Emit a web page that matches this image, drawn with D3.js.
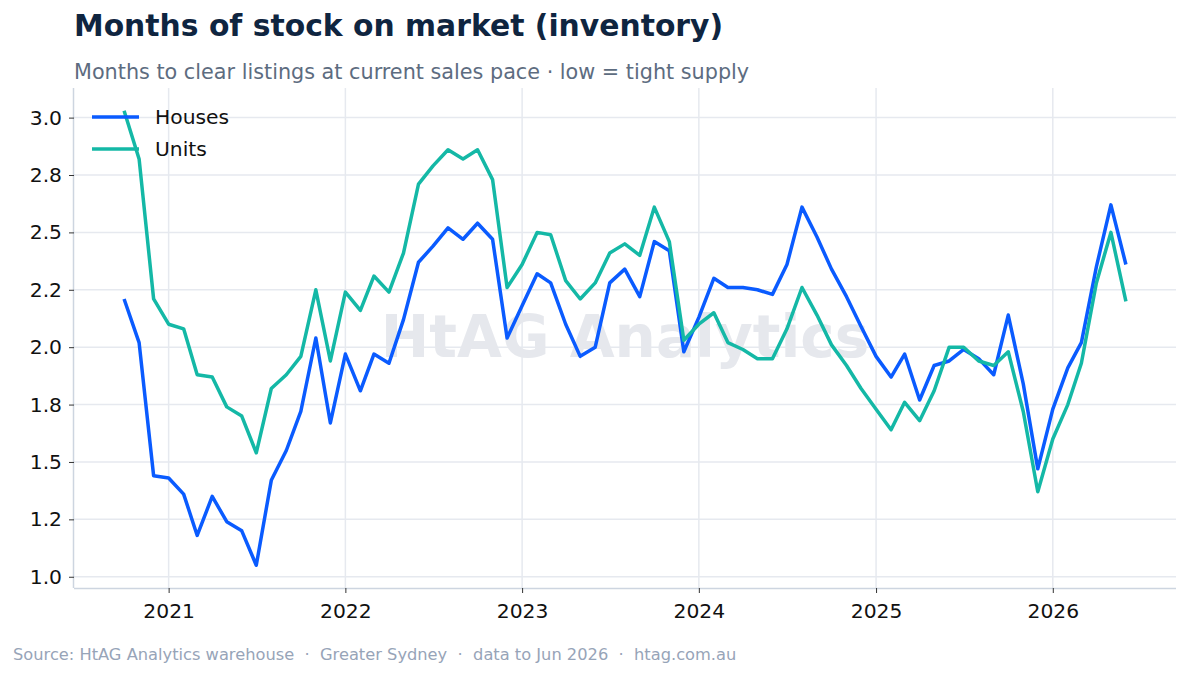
<!DOCTYPE html>
<html>
<head>
<meta charset="utf-8">
<script src="https://cdn.jsdelivr.net/npm/d3@7"></script>
<style>
  body { margin: 0; background: #fff; }
  svg { font-family: "DejaVu Sans", sans-serif; display: block; }
</style>
</head>
<body>
<div id="chart"></div>
<script>
// Months of stock on market - Greater Sydney, houses vs units
const width = 1189;
const height = 676;
const margin = { top: 88, right: 13, bottom: 88, left: 74 };

const startMonth = "2020-10";
const houses = [
  2.21, 2.02, 1.44,
  1.43, 1.36, 1.18, 1.35, 1.24, 1.20, 1.05, 1.42, 1.55, 1.72, 2.04, 1.67,
  1.97, 1.81, 1.97, 1.93, 2.12, 2.37, 2.44, 2.52, 2.47, 2.54, 2.47, 2.04,
  2.18, 2.32, 2.28, 2.10, 1.96, 2.00, 2.28, 2.34, 2.22, 2.46, 2.42, 1.98,
  2.13, 2.30, 2.26, 2.26, 2.25, 2.23, 2.36, 2.61, 2.48, 2.34, 2.22, 2.09,
  1.96, 1.87, 1.97, 1.77, 1.92, 1.94, 1.99, 1.95, 1.88, 2.14, 1.84, 1.47,
  1.73, 1.91, 2.02, 2.35, 2.62, 2.36
];
const units = [
  3.03, 2.82, 2.21,
  2.10, 2.08, 1.88, 1.87, 1.74, 1.70, 1.54, 1.82, 1.88, 1.96, 2.25, 1.94,
  2.24, 2.16, 2.31, 2.24, 2.41, 2.71, 2.79, 2.86, 2.82, 2.86, 2.73, 2.26,
  2.36, 2.50, 2.49, 2.29, 2.21, 2.28, 2.41, 2.45, 2.40, 2.61, 2.46, 2.03,
  2.10, 2.15, 2.02, 1.99, 1.95, 1.95, 2.08, 2.26, 2.14, 2.01, 1.92, 1.82,
  1.73, 1.64, 1.76, 1.68, 1.81, 2.00, 2.00, 1.94, 1.92, 1.98, 1.72, 1.37,
  1.60, 1.75, 1.93, 2.28, 2.50, 2.20
];
const yTicks = [1.0, 1.25, 1.5, 1.75, 2.0, 2.25, 2.5, 2.75, 3.0];
const yTickLabels = ["1.0", "1.2", "1.5", "1.8", "2.0", "2.2", "2.5", "2.8", "3.0"];
const xTickYears = [2021, 2022, 2023, 2024, 2025, 2026];

const seriesNames = ["Houses", "Units"];
const colors = { Houses: "#0a5bff", Units: "#14b8a6" };

const parseMonth = d3.timeParse("%Y-%m");
const months = d3.timeMonth.range(parseMonth(startMonth), d3.timeMonth.offset(parseMonth(startMonth), houses.length));
const series = [
  { name: "Houses", values: houses.map((v, i) => ({ date: months[i], value: v })) },
  { name: "Units", values: units.map((v, i) => ({ date: months[i], value: v })) }
];

const svg = d3.select("#chart")
  .append("svg")
  .attr("width", width)
  .attr("height", height);

// matplotlib-ish 5% margins on both axes
const xExt = d3.extent(months);
const xPad = (xExt[1] - xExt[0]) * 0.05;
const x = d3.scaleTime()
  .domain([new Date(+xExt[0] - xPad), new Date(+xExt[1] + xPad)])
  .range([margin.left, width - margin.right]);

const allVals = houses.concat(units);
const yExt = d3.extent(allVals);
const yPad = (yExt[1] - yExt[0]) * 0.05;
const y = d3.scaleLinear()
  .domain([yExt[0] - yPad, yExt[1] + yPad])
  .range([height - margin.bottom, margin.top]);

const plotLeft = margin.left, plotRight = width - margin.right;
const plotTop = margin.top, plotBottom = height - margin.bottom;

// gridlines
svg.append("g")
  .selectAll("line")
  .data(yTicks)
  .join("line")
  .attr("x1", plotLeft).attr("x2", plotRight)
  .attr("y1", d => y(d)).attr("y2", d => y(d))
  .attr("stroke", "#e6e9ef").attr("stroke-width", 1.5);

svg.append("g")
  .selectAll("line")
  .data(xTickYears)
  .join("line")
  .attr("x1", d => x(new Date(d, 0, 1))).attr("x2", d => x(new Date(d, 0, 1)))
  .attr("y1", plotTop).attr("y2", plotBottom)
  .attr("stroke", "#e6e9ef").attr("stroke-width", 1.5);

// watermark
svg.append("text")
  .attr("x", (plotLeft + plotRight) / 2)
  .attr("y", 357)
  .attr("text-anchor", "middle")
  .attr("font-size", 58)
  .attr("font-weight", "bold")
  .attr("fill", "#e6e8ed")
  .text("HtAG Analytics");

// axes
const xAxis = d3.axisBottom(x)
  .tickValues(xTickYears.map(yr => new Date(yr, 0, 1)))
  .tickFormat(d3.timeFormat("%Y"))
  .tickSize(5)
  .tickPadding(6);

const yAxis = d3.axisLeft(y)
  .tickValues(yTicks)
  .tickFormat((d, i) => yTickLabels[i])
  .tickSize(5)
  .tickPadding(7);

const gx = svg.append("g")
  .attr("transform", `translate(0,${plotBottom})`)
  .call(xAxis);
const gy = svg.append("g")
  .attr("transform", `translate(${plotLeft},0)`)
  .call(yAxis);

[gx, gy].forEach(g => {
  g.select(".domain").attr("stroke", "#cdd5e0").attr("stroke-width", 1.5);
  g.selectAll(".tick line").attr("stroke", "#333").attr("stroke-width", 1);
  g.selectAll(".tick text")
    .attr("fill", "#111")
    .attr("font-size", 20.3)
    .attr("font-family", "DejaVu Sans, sans-serif");
});
// axisBottom draws outer ticks into the domain path; redraw as a plain line
gx.select(".domain").attr("d", `M${plotLeft},0.5H${plotRight}`);
gy.select(".domain").attr("d", `M-0.5,${plotTop}V${plotBottom}`);
gx.selectAll(".tick text").attr("dy", "0.95em");

// lines
const line = d3.line()
  .x(d => x(d.date))
  .y(d => y(d.value));

svg.append("g")
  .selectAll("path")
  .data(series)
  .join("path")
  .attr("fill", "none")
  .attr("stroke", d => colors[d.name])
  .attr("stroke-width", 3.5)
  .attr("stroke-linejoin", "round")
  .attr("d", d => line(d.values));

// legend
const legend = svg.append("g")
  .selectAll("g")
  .data(seriesNames)
  .join("g")
  .attr("transform", (d, i) => `translate(92,${117 + i * 32})`);

legend.append("line")
  .attr("x1", 0).attr("x2", 47)
  .attr("stroke", d => colors[d])
  .attr("stroke-width", 3.5);

legend.append("text")
  .attr("x", 63)
  .attr("dy", "0.35em")
  .attr("font-size", 20.3)
  .attr("fill", "#111")
  .text(d => d);

// titles
svg.append("text")
  .attr("x", 74).attr("y", 36)
  .attr("font-size", 29.8)
  .attr("font-weight", "bold")
  .attr("fill", "#0f2540")
  .text("Months of stock on market (inventory)");

svg.append("text")
  .attr("x", 74).attr("y", 79)
  .attr("font-size", 20.75)
  .attr("fill", "#5d6c80")
  .text("Months to clear listings at current sales pace · low = tight supply");

svg.append("text")
  .attr("x", 13).attr("y", 660)
  .attr("font-size", 16.25)
  .attr("fill", "#97a4b8")
  .style("white-space", "pre")
  .text("Source: HtAG Analytics warehouse  ·  Greater Sydney  ·  data to Jun 2026  ·  htag.com.au");
</script>
</body>
</html>
